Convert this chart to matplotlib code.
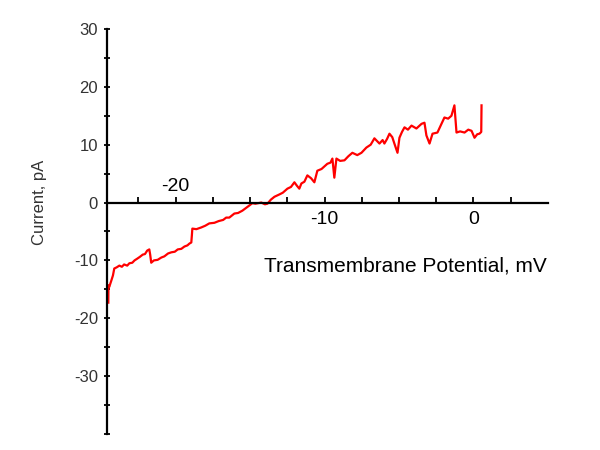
import matplotlib
matplotlib.use("Agg")
import matplotlib.pyplot as plt
from matplotlib.ticker import MultipleLocator, FixedLocator, FuncFormatter

plt.rcParams['font.family'] = ['Liberation Sans', 'DejaVu Sans']
plt.rcParams['axes.unicode_minus'] = False

# trace (mV, pA)
potential = [-24.51, -24.50, -24.45, -24.31, -24.20, -24.11, -23.95, -23.77, -23.60, -23.45,
             -23.24, -23.10, -22.90, -22.75, -22.57, -22.40, -22.20, -22.05, -21.90, -21.76,
             -21.70, -21.63, -21.45, -21.20, -20.95, -20.75, -20.50, -20.28, -20.05, -19.85,
             -19.61, -19.40, -19.20, -19.07, -18.94, -18.90, -18.87, -18.60, -18.27, -18.00,
             -17.73, -17.39, -17.10, -16.80, -16.60, -16.39, -16.05, -15.80, -15.51, -15.25,
             -15.04, -14.84, -14.64, -14.24, -14.00, -13.83, -13.60, -13.36, -13.03, -12.80,
             -12.49, -12.25, -12.02, -11.85, -11.69, -11.55, -11.35, -11.15, -10.90, -10.68,
             -10.48, -10.20, -9.81, -9.60, -9.47, -9.34, -9.20, -8.95, -8.66, -8.40,
             -8.13, -7.80, -7.52, -7.19, -6.90, -6.65, -6.31, -6.10, -5.98, -5.80,
             -5.64, -5.45, -5.31, -5.10, -4.97, -4.80, -4.63, -4.40, -4.16, -3.83,
             -3.49, -3.29, -3.16, -2.95, -2.75, -2.42, -2.15, -1.95, -1.70, -1.48,
             -1.28, -1.14, -0.90, -0.60, -0.35, -0.13, 0.07, 0.25, 0.40, 0.52,
             0.54]
current = [-17.3, -14.3, -14.6, -13.5, -12.6, -11.4, -11.2, -10.9, -11.1, -10.7,
           -10.9, -10.5, -10.4, -10.0, -9.7, -9.4, -9.0, -8.9, -8.3, -8.1,
           -9.0, -10.4, -10.0, -9.9, -9.5, -9.3, -8.8, -8.6, -8.5, -8.1,
           -8.0, -7.6, -7.4, -7.1, -6.9, -5.6, -4.5, -4.6, -4.3, -4.0,
           -3.6, -3.5, -3.2, -3.0, -2.6, -2.6, -1.9, -1.8, -1.4, -0.9,
           -0.5, -0.1, -0.2, 0.0, -0.3, -0.2, 0.5, 1.0, 1.4, 1.7,
           2.4, 2.7, 3.5, 2.9, 2.4, 3.3, 3.6, 4.7, 4.2, 3.5,
           5.5, 5.8, 6.7, 6.9, 7.6, 4.3, 7.6, 7.2, 7.3, 8.0,
           8.6, 8.2, 8.6, 9.5, 10.0, 11.1, 10.2, 10.8, 10.2, 11.0,
           11.9, 11.3, 10.2, 8.6, 11.2, 12.2, 13.0, 12.6, 13.3, 12.8,
           13.6, 13.8, 11.6, 10.2, 11.9, 12.1, 13.6, 14.7, 14.5, 15.0,
           16.8, 12.1, 12.3, 12.1, 12.6, 12.4, 11.2, 11.8, 11.9, 12.2,
           16.8]

x_labels = {-10: "-10", 0: "0"}
x_min, x_max = -24.6, 5
y_min, y_max = -40, 30

fig = plt.figure(figsize=(6, 4.5), dpi=100)
ax = fig.add_axes([0.1783, 0.0356, 0.735, 0.9])

ax.plot(potential, current, color="#ff0000", lw=1.6)

ax.set_xlim(x_min, x_max)
ax.set_ylim(y_min, y_max)

ax.spines['top'].set_visible(False)
ax.spines['right'].set_visible(False)
ax.spines['bottom'].set_position(('data', 0))
ax.spines['left'].set_linewidth(1.6)
ax.spines['bottom'].set_linewidth(1.6)

xt = [-22.5 + 2.5 * i for i in range(11)]
ax.xaxis.set_major_locator(FixedLocator(xt))
ax.set_xticklabels([x_labels.get(round(v), "") if v in (-10, 0) else "" for v in xt])
ax.tick_params(axis='x', direction='in', length=4, width=1.3, pad=6,
               labelsize=14, colors='black')
ax.text(-20, 1.3, "-20", fontsize=14, ha='center', va='bottom')

ax.yaxis.set_major_locator(MultipleLocator(10))
ax.yaxis.set_minor_locator(MultipleLocator(5))
# bottom end of the axis carries a tick but no label
ax.yaxis.set_major_formatter(FuncFormatter(lambda v, p: "" if v <= y_min else f"{v:g}"))
ax.tick_params(axis='y', which='both', direction='inout', length=5, width=1.3,
               pad=4, labelsize=12, labelcolor='#333333')

ax.text(0.676, 0.415, "Transmembrane Potential, mV", transform=ax.transAxes,
        fontsize=15, ha='center', va='center')
ax.text(-0.152, 0.573, "Current, pA", transform=ax.transAxes, rotation=90,
        fontsize=12, ha='center', va='center', color='#333333')

fig.savefig("out.png", dpi=100)
